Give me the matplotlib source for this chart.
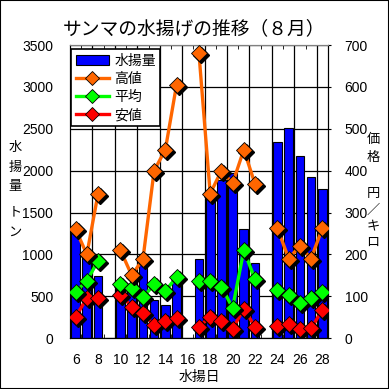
import numpy as np
import matplotlib.pyplot as plt
import matplotlib.transforms as mtransforms
from matplotlib.lines import Line2D
from matplotlib.patches import Patch, Rectangle

plt.rcParams['font.family'] = ['Noto Sans CJK JP', 'DejaVu Sans']

nan = np.nan
days = np.arange(6, 29)
catch = [1250, 980, 740, nan, 630, 570, 960, 450, 390, 690, nan,
         950, 1710, 1890, 1970, 1300, 900, nan, 2340, 2510, 2180, 1930, 1780]
high = [260, 200, 345, nan, 210, 150, 188, 400, 450, 605, nan,
        680, 345, 400, 370, 450, 368, nan, 262, 190, 220, 190, 262]
avg = [110, 137, 184, nan, 130, 120, 97, 128, 112, 146, nan,
       137, 137, 123, 72, 210, 140, nan, 115, 103, 84, 95, 111]
low = [51, 95, 95, nan, 104, 75, 59, 31, 41, 48, nan,
       27, 51, 41, 22, 70, 27, nan, 29, 33, 21, 23, 67]
xticks = np.arange(6, 29, 2)

W = 389.0
fig = plt.figure(figsize=(3.89, 3.89), dpi=100)
fig.patches.append(Rectangle((0, 0), 1, 1, transform=fig.transFigure, fill=False,
                             edgecolor='black', lw=1.5))

ax = fig.add_axes([0.18, 0.131, 0.663, 0.753])
ax.set_xlim(5.5, 28.5)
ax.set_ylim(0, 3500)
ax.set_yticks(np.arange(0, 3501, 500))
ax.set_xticks(xticks)
ax.set_xticks(np.arange(5.5, 29, 1), minor=True)
ax.tick_params(axis='x', which='major', length=0, pad=11, labelsize=10)
ax.tick_params(axis='x', which='minor', length=3, direction='in', top=True, bottom=True)
ax.tick_params(axis='y', length=0, pad=12, labelsize=10)
ax.set_axisbelow(True)
ax.yaxis.grid(True, color='black', lw=0.9)
for xb in np.arange(7.5, 28.5, 2):
    ax.axvline(xb, color='black', lw=0.9, zorder=0.5)

ax.bar(days, catch, width=0.78, color='#0000FF', edgecolor='black', lw=0.8, zorder=2)

ax2 = ax.twinx()
ax2.set_ylim(0, 700)
ax2.set_yticks(np.arange(0, 701, 100))
ax2.tick_params(axis='y', length=2, pad=10, labelsize=10)
ax2.spines['top'].set_color('#808080')
ax.spines['top'].set_color('#808080')
for lab in ax.get_xticklabels() + ax.get_yticklabels() + ax2.get_yticklabels():
    lab.set_fontfamily('Liberation Sans')

shadow = mtransforms.offset_copy(ax2.transData, fig=fig, x=2, y=-2, units='dots')
series = [(low, '#FF0000'), (avg, '#00FF00'), (high, '#FF6600')]
for i, (vals, col) in enumerate(series):
    z = 3 + i * 3
    ax2.plot(days, vals, color=col, lw=2.4, zorder=z)
    ax2.plot(days, vals, linestyle='none', marker='D', ms=8, color='black',
             transform=shadow, zorder=z + 1)
    ax2.plot(days, vals, linestyle='none', marker='D', ms=8, markerfacecolor=col,
             markeredgecolor='black', markeredgewidth=0.6, zorder=z + 2)

handles = [Patch(facecolor='#0000FF', edgecolor='black', lw=0.8),
           Line2D([], [], color='#FF6600', lw=2.4, marker='D', ms=7, mfc='#FF6600', mec='black', mew=0.6),
           Line2D([], [], color='#00FF00', lw=2.4, marker='D', ms=7, mfc='#00FF00', mec='black', mew=0.6),
           Line2D([], [], color='#FF0000', lw=2.4, marker='D', ms=7, mfc='#FF0000', mec='black', mew=0.6)]
leg = ax2.legend(handles, ['水揚量', '高値', '平均', '安値'], loc='upper left',
                 bbox_to_anchor=(0.0, 0.99), fontsize=10, frameon=True, fancybox=False,
                 edgecolor='black', framealpha=1, borderpad=0.3, labelspacing=0.3,
                 handlelength=2.4, handletextpad=0.4, borderaxespad=0.1)
leg.get_frame().set_linewidth(1.2)
leg.set_zorder(20)

fig.text(0.5, 0.926, 'サンマの水揚げの推移（８月）', ha='center', va='center', fontsize=13.5)
fig.text(0.512, 0.03, '水揚日', ha='center', va='center', fontsize=10)

# vertical axis titles, one character per row (pixel rows)
left_chars = ['水', '揚', '量', 'ト', 'ン']
left_rows = [148, 167, 186, 213, 232]
for ch, yy in zip(left_chars, left_rows):
    fig.text(15 / W, 1 - yy / W, ch, ha='center', va='center', fontsize=9.5)
right_chars = ['価', '格', '円', '／', 'キ', 'ロ']
right_rows = [139, 157, 193, 210, 227, 242]
for ch, yy in zip(right_chars, right_rows):
    fig.text(373 / W, 1 - yy / W, ch, ha='center', va='center', fontsize=9.5)

plt.savefig('out.png', dpi=100)
